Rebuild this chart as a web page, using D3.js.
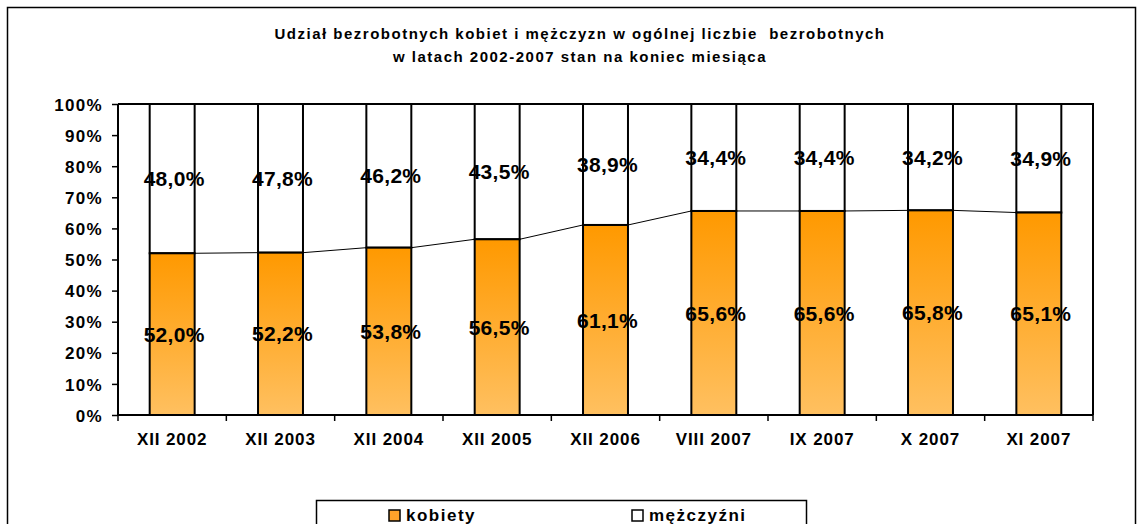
<!DOCTYPE html>
<html>
<head>
  <meta charset="utf-8">
  <title>Udział bezrobotnych kobiet i mężczyzn</title>
  <script src="https://cdnjs.cloudflare.com/ajax/libs/d3/7.8.5/d3.min.js"></script>
  <style>
    body { margin: 0; background: #fff; }
    svg text { font-family: "Liberation Sans", Arial, sans-serif; font-weight: bold; fill: #000; }
  </style>
</head>
<body>
<div id="chart"></div>
<script>
  // data
  var categories = ["XII 2002", "XII 2003", "XII 2004", "XII 2005", "XII 2006", "VIII 2007", "IX 2007", "X 2007", "XI 2007"];
  var kobiety = [52.0, 52.2, 53.8, 56.5, 61.1, 65.6, 65.6, 65.8, 65.1];
  var mezczyzni = [48.0, 47.8, 46.2, 43.5, 38.9, 34.4, 34.4, 34.2, 34.9];
  var yTicks = [0, 10, 20, 30, 40, 50, 60, 70, 80, 90, 100];
  var titleLines = ["Udział bezrobotnych kobiet i mężczyzn w ogólnej liczbie  bezrobotnych",
                    "w latach 2002-2007 stan na koniec miesiąca"];

  var W = 1141, H = 524;
  var margin = {top: 104, right: 48, bottom: 109, left: 118},
      width = W - margin.left - margin.right,
      height = H - margin.top - margin.bottom;

  var fmt = function (v) { return v.toFixed(1).replace(".", ",") + "%"; };

  var root = d3.select("#chart").append("svg")
      .attr("width", W)
      .attr("height", H);

  // gradient for women bars
  var grad = root.append("defs").append("linearGradient")
      .attr("id", "orange").attr("x1", 0).attr("y1", 0).attr("x2", 0).attr("y2", 1);
  grad.append("stop").attr("offset", "0%").attr("stop-color", "#ff9900");
  grad.append("stop").attr("offset", "100%").attr("stop-color", "#ffc060");

  // outer chart border
  root.append("rect")
      .attr("x", 7.5).attr("y", 7.5)
      .attr("width", 1128).attr("height", 540)
      .attr("fill", "none").attr("stroke", "#000").attr("stroke-width", 1.5);

  // title
  root.append("g").selectAll("text")
      .data(titleLines)
      .enter().append("text")
      .attr("x", 580)
      .attr("y", (d, i) => 39 + i * 23)
      .attr("text-anchor", "middle")
      .style("font-size", "15px")
      .style("letter-spacing", "1.5px")
      .style("white-space", "pre")
      .text(d => d);

  var svg = root.append("g")
      .attr("transform", "translate(" + margin.left + "," + margin.top + ")");

  var x = d3.scaleBand().domain(categories).range([0, width]).padding(0);
  var y = d3.scaleLinear().domain([0, 100]).range([height, 0]);
  var barW = x.bandwidth() * 0.415;
  var bx = d => x(d) + (x.bandwidth() - barW) / 2;

  // plot area border (top and right)
  svg.append("path")
      .attr("d", "M0,0H" + width + "V" + height)
      .attr("fill", "none").attr("stroke", "#000").attr("stroke-width", 2);

  // men segments (white)
  svg.append("g").selectAll("rect")
      .data(categories)
      .enter().append("rect")
      .attr("x", d => bx(d))
      .attr("y", y(100))
      .attr("width", barW)
      .attr("height", (d, i) => y(kobiety[i]) - y(100))
      .attr("fill", "#fff")
      .attr("stroke", "#000").attr("stroke-width", 2);

  // women segments (orange)
  svg.append("g").selectAll("rect")
      .data(categories)
      .enter().append("rect")
      .attr("x", d => bx(d))
      .attr("y", (d, i) => y(kobiety[i]))
      .attr("width", barW)
      .attr("height", (d, i) => height - y(kobiety[i]))
      .attr("fill", "url(#orange)")
      .attr("stroke", "#000").attr("stroke-width", 2);

  // series lines between bars
  var seg = [];
  for (var i = 0; i < categories.length - 1; i++) {
    seg.push([[bx(categories[i]) + barW, y(kobiety[i])], [bx(categories[i + 1]), y(kobiety[i + 1])]]);
  }
  svg.append("g").selectAll("path")
      .data(seg)
      .enter().append("path")
      .attr("d", d => d3.line()(d))
      .attr("stroke", "#000").attr("stroke-width", 1);

  // axes
  var yAxis = svg.append("g")
      .call(d3.axisLeft(y).tickValues(yTicks).tickFormat(d => d + "%").tickSize(6).tickPadding(9));
  yAxis.select(".domain").attr("stroke-width", 2).attr("d", "M0,0V" + height);
  yAxis.selectAll(".tick line").attr("stroke-width", 1.5);
  yAxis.selectAll("text")
      .style("font-size", "17px").style("letter-spacing", "1.3px")
      .attr("dy", "0.36em");

  var xAxis = svg.append("g")
      .attr("transform", "translate(0," + height + ")")
      .call(d3.axisBottom(x).tickSize(0).tickPadding(18));
  xAxis.select(".domain").attr("stroke-width", 2).attr("d", "M0,0H" + width);
  xAxis.selectAll("text")
      .style("font-size", "17px").style("letter-spacing", "0.9px");
  // category boundary ticks
  svg.append("g").selectAll("line")
      .data(categories.map(d => x(d)).concat([width]))
      .enter().append("line")
      .attr("x1", d => d).attr("x2", d => d)
      .attr("y1", height).attr("y2", height + 6)
      .attr("stroke", "#000").attr("stroke-width", 1.5);

  // data labels
  svg.append("g").selectAll("text")
      .data(categories)
      .enter().append("text")
      .attr("x", d => x(d) + x.bandwidth() / 2 + 2)
      .attr("y", (d, i) => y(kobiety[i] / 2))
      .attr("dy", "0.36em")
      .attr("text-anchor", "middle")
      .style("font-size", "21px")
      .style("letter-spacing", "0.3px")
      .text((d, i) => fmt(kobiety[i]));
  svg.append("g").selectAll("text")
      .data(categories)
      .enter().append("text")
      .attr("x", d => x(d) + x.bandwidth() / 2 + 2)
      .attr("y", (d, i) => y(kobiety[i] + mezczyzni[i] / 2))
      .attr("dy", "0.36em")
      .attr("text-anchor", "middle")
      .style("font-size", "21px")
      .style("letter-spacing", "0.3px")
      .text((d, i) => fmt(mezczyzni[i]));

  // legend
  var lg = root.append("g");
  lg.append("rect")
      .attr("x", 316.5).attr("y", 500.5).attr("width", 490).attr("height", 40)
      .attr("fill", "#fff").attr("stroke", "#000").attr("stroke-width", 1.5);
  var items = [{name: "kobiety", fill: "#ffa22a", x: 389}, {name: "mężczyźni", fill: "#fff", x: 632}];
  items.forEach(function (it) {
    lg.append("rect")
        .attr("x", it.x).attr("y", 510).attr("width", 11).attr("height", 11)
        .attr("fill", it.fill).attr("stroke", "#000").attr("stroke-width", 1.5);
    lg.append("text")
        .attr("x", it.x + 17).attr("y", 521)
        .style("font-size", "17px").style("letter-spacing", "1.5px")
        .text(it.name);
  });
</script>
</body>
</html>
